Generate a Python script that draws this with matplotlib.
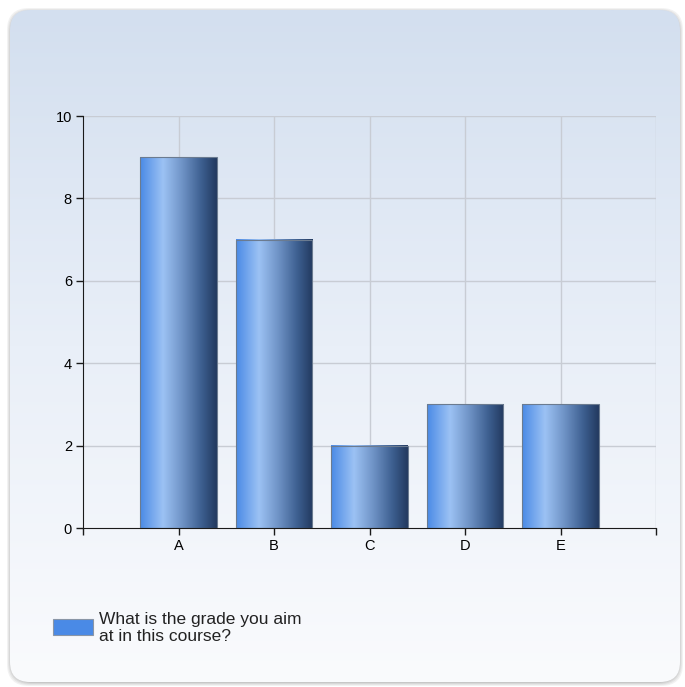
import numpy as np
import matplotlib
matplotlib.use("Agg")
import matplotlib.pyplot as plt
from matplotlib.patches import FancyBboxPatch, Rectangle
from matplotlib.colors import LinearSegmentedColormap

categories = ["A", "B", "C", "D", "E"]
values = [9, 7, 2, 3, 3]
series_name = "What is the grade you aim\nat in this course?"
yticks = [0, 2, 4, 6, 8, 10]

plt.rcParams['font.family'] = ['Liberation Sans', 'DejaVu Sans']

fig = plt.figure(figsize=(6.85, 6.87), dpi=100)
fig.patch.set_facecolor("white")

# background panel with shadow and vertical gradient
bg = fig.add_axes([0, 0, 1, 1], zorder=0)
bg.set_xlim(0, 685)
bg.set_ylim(687, 0)
bg.axis("off")
for i, a in enumerate([0.05, 0.05, 0.06, 0.07]):
    off = 4 - i
    sh = FancyBboxPatch((10 - off + 1, 10 - off + 2), 670 + 2 * off - 2, 672 + 2 * off - 2,
                        boxstyle="round,pad=0,rounding_size=22", fc=(0, 0, 0, a), ec="none")
    bg.add_patch(sh)
panel = FancyBboxPatch((10, 10), 670, 672, boxstyle="round,pad=0,rounding_size=20",
                       fc="none", ec="none")
bg.add_patch(panel)
grad = np.linspace(0, 1, 256).reshape(-1, 1)
pcmap = LinearSegmentedColormap.from_list("p", ["#d3dfef", "#e9eff8", "#fafbfd"])
im = bg.imshow(grad, cmap=pcmap, extent=[10, 680, 682, 10], aspect="auto", zorder=1)
im.set_clip_path(panel)

ax = fig.add_axes([83 / 685, 1 - 528 / 687, (656 - 83) / 685, (528 - 116) / 687], zorder=2)
ax.patch.set_alpha(0)
x = np.arange(1, len(categories) + 1)

for v in [2, 4, 6, 8, 10]:
    ax.axhline(v, color="#c8ccd4", lw=1, zorder=0)
for xv in list(x) + [len(categories) + 1]:
    ax.axvline(xv, color="#c8ccd4", lw=1, zorder=0)

bcmap = LinearSegmentedColormap.from_list(
    "b", [(0, "#4a8ae6"), (0.3, "#9cc2f4"), (0.55, "#6f93c6"), (0.8, "#3d5f90"), (1, "#22395f")])
hgrad = np.linspace(0, 1, 256).reshape(1, -1)
w = 0.8
bars = ax.bar(x, values, width=w, color="none", edgecolor="#6b7b90", lw=0.8, zorder=3)
for b in bars:
    bx, by = b.get_x(), b.get_y()
    bw, bh = b.get_width(), b.get_height()
    ax.imshow(hgrad, cmap=bcmap, extent=[bx, bx + bw, by, by + bh], aspect="auto", zorder=2)
ax.set_xlim(0, len(categories) + 1)
ax.set_ylim(0, 10)

ax.set_yticks(yticks)
ax.set_yticklabels([str(t) for t in yticks], fontsize=10.5)
ax.set_xticks(list(range(0, len(categories) + 2)))
ax.set_xticklabels([""] + categories + [""], fontsize=10.5)
for s in ["top", "right"]:
    ax.spines[s].set_visible(False)
ax.spines["left"].set_color("#1a1a1a")
ax.spines["bottom"].set_color("#1a1a1a")
ax.tick_params(axis="both", direction="out", length=5, width=1, color="#1a1a1a", pad=3)

# legend
bg.add_patch(Rectangle((53, 619), 40, 16, fc="#4a8ae6", ec="#8a96a6", lw=0.8, zorder=3))
bg.text(99, 612, series_name, fontsize=12.5, va="top", ha="left", color="#222222",
        linespacing=1.2, zorder=3)

fig.savefig("out.png", dpi=100)
